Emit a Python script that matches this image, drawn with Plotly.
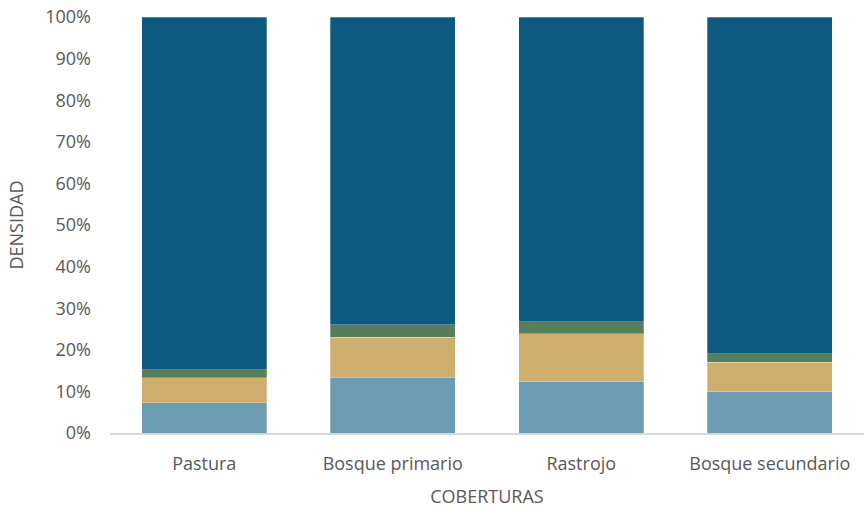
import plotly.graph_objects as go

# Land-cover categories and the share of each density class (percent)
coberturas = ["Pastura", "Bosque primario", "Rastrojo", "Bosque secundario"]
clase_1 = [7.3, 13.4, 12.3, 9.9]
clase_2 = [6.0, 9.6, 11.6, 7.1]
clase_3 = [1.9, 3.0, 2.9, 2.1]
clase_4 = [84.8, 74.0, 73.2, 80.9]

series = [
    ("Clase 1", clase_1, "#6b9cb1"),
    ("Clase 2", clase_2, "#cdae6f"),
    ("Clase 3", clase_3, "#567e5a"),
    ("Clase 4", clase_4, "#0e5a7e"),
]

fig = go.Figure()
for name, vals, color in series:
    fig.add_trace(go.Bar(
        x=coberturas, y=vals, name=name,
        marker=dict(color=color, line=dict(color="rgba(255,255,255,0.35)", width=0.8)),
    ))

font_family = "Open Sans, Noto Sans, sans-serif"
txt = "#595959"
fig.update_layout(
    barmode="stack",
    barnorm="percent",
    bargap=0.335,
    width=865, height=511,
    margin=dict(l=110, r=1, t=17, b=78),
    paper_bgcolor="white",
    plot_bgcolor="white",
    showlegend=False,
    font=dict(family=font_family, color=txt, size=18),
    xaxis=dict(
        title=dict(text="COBERTURAS", font=dict(size=18, color=txt), standoff=16),
        showline=True, linecolor="#d9d9d9", linewidth=1.5,
        ticks="", tickfont=dict(size=18, color=txt),
        ticklabelstandoff=14,
        showgrid=False,
    ),
    yaxis=dict(
        title=dict(text="DENSIDAD", font=dict(size=18, color=txt), standoff=16),
        range=[0, 100], tick0=0, dtick=10, ticksuffix="%",
        showgrid=False, zeroline=False, showline=False,
        tickfont=dict(size=18, color=txt),
        ticklabelstandoff=18,
    ),
)

fig.write_html("out.html")
